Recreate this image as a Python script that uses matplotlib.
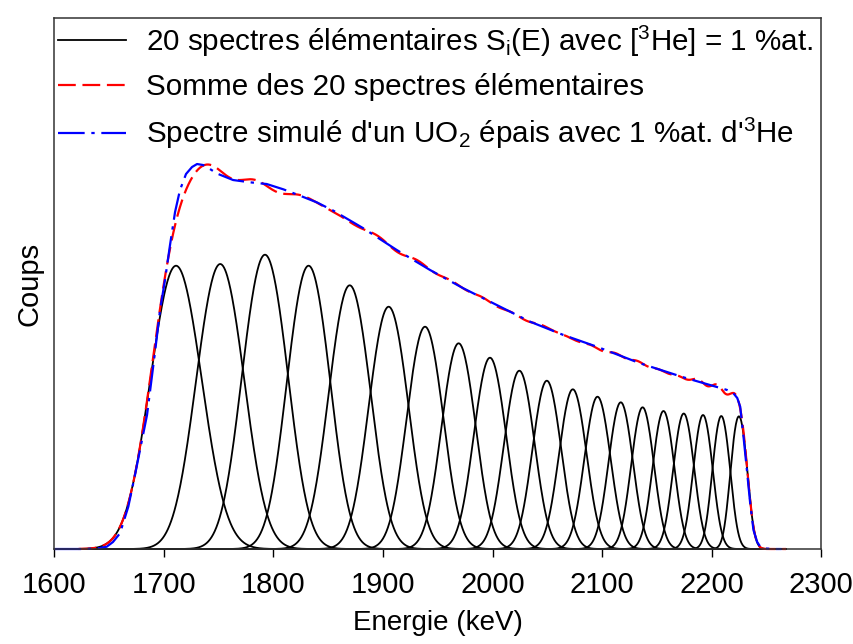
import math
import numpy as np
import matplotlib
matplotlib.use("Agg")
import matplotlib.pyplot as plt

plt.rcParams["font.family"] = ["Liberation Sans", "DejaVu Sans"]
plt.rcParams["mathtext.fontset"] = "custom"
plt.rcParams["mathtext.rm"] = "Liberation Sans"
plt.rcParams["mathtext.it"] = "Liberation Sans:italic"

# Elementary spectra: centre (keV), peak height (counts), Gaussian resolution sigma (keV)
peak_centers = [1711.0, 1750.9, 1792.6, 1832.8, 1869.9, 1905.8, 1939.1, 1969.5, 1998.1, 2025.0,
                2049.9, 2073.6, 2096.2, 2117.5, 2137.3, 2156.1, 2175.0, 2192.4, 2209.1, 2225.0]
peak_heights = [283.3, 285.0, 294.3, 283.3, 263.7, 242.3, 222.3, 205.7, 191.3, 178.3,
                168.3, 159.7, 152.3, 146.7, 141.7, 138.0, 135.5, 134.0, 133.0, 132.7]
resolution_sigma = [19.5, 17.0, 15.4, 14.5, 14.4, 13.6, 12.6, 12.0, 11.4, 10.8,
                    10.2, 9.9, 9.4, 8.7, 8.1, 7.6, 7.3, 6.7, 5.8, 5.1]

# Simulated thick UO2 spectrum (energy in keV, counts)
sim_energy = [1600, 1629.4, 1641.6, 1647.7, 1653.4, 1659.8, 1667.4, 1673.5, 1679.0, 1684.5,
              1691.8, 1696.4, 1700.9, 1705.5, 1710.1, 1714.6, 1720.1, 1725.6, 1730.2, 1735.7,
              1742.0, 1748.4, 1763.1, 1778.6, 1793.8, 1809.0, 1824.3, 1839.5, 1854.7, 1882.1,
              1912.6, 1943.0, 1973.4, 2003.9, 2034.4, 2064.8, 2095.3, 2134.8, 2174.4, 2201.8,
              2214.3, 2219.8, 2223.5, 2226.2, 2229.2, 2232.3, 2235.3, 2238.3, 2241.7, 2244.5,
              2250.6, 2258.2, 2264.0]
sim_counts = [0, 0, 1, 2.3, 7, 15.7, 42.3, 74, 104, 134,
              197, 239, 269, 304, 337, 359, 375, 382, 385, 384,
              380, 375.5, 369, 366.7, 365, 359.7, 353.3, 346.7, 338.3, 320.7,
              299, 279, 260.7, 244, 227.3, 214, 202.3, 185.7, 171.7, 163,
              159, 156, 151, 142.3, 112.3, 79, 45.7, 19, 7, 2.3,
              0.4, 0, 0]

x_ticks = [1600, 1700, 1800, 1900, 2000, 2100, 2200, 2300]

erf = np.vectorize(math.erf)

# Each layer covers the energy band between the midpoints of neighbouring centres
centers = np.array(peak_centers)
mids = (centers[1:] + centers[:-1]) / 2
band_lo = np.r_[centers[0] - (centers[1] - centers[0]) / 2, mids]
band_hi = np.r_[mids, centers[-1] + (centers[-1] - centers[-2]) / 2]


def elementary_spectrum(e, lo, hi, height, sigma):
    """Flat energy band convolved with a Gaussian detector response."""
    level = height / math.erf((hi - lo) / (2 * math.sqrt(2) * sigma))
    return level / 2 * (erf((e - lo) / (math.sqrt(2) * sigma)) - erf((e - hi) / (math.sqrt(2) * sigma)))


energy = np.linspace(1622, 2268, 1300)
components = [elementary_spectrum(energy, lo, hi, h, s)
              for lo, hi, h, s in zip(band_lo, band_hi, peak_heights, resolution_sigma)]
total = np.sum(components, axis=0)

fig = plt.figure(figsize=(8.54, 6.44), dpi=100)
ax = fig.add_axes([0.0638, 0.1475, 0.8976, 0.8245])

for i, comp in enumerate(components):
    ax.plot(energy, comp, color="black", lw=1.3, clip_on=False,
            label=r"20 spectres élémentaires S$_\mathregular{i}$(E) avec [$^\mathregular{3}$He] = 1 %at."
            if i == 0 else None)
ax.plot(energy, total, color="#ff0000", lw=1.6, linestyle=(0, (8, 3)), clip_on=False,
        label="Somme des 20 spectres élémentaires")
ax.plot(sim_energy, sim_counts, color="#0000ff", lw=1.6, linestyle=(0, (12, 3, 1.5, 3)), clip_on=False,
        label=r"Spectre simulé d'un UO$_\mathregular{2}$ épais avec 1 %at. d'$^\mathregular{3}$He")

ax.set_xlim(1600, 2300)
ax.set_ylim(0, 531)
ax.set_xticks(x_ticks)
ax.set_xticklabels([str(t) for t in x_ticks])
ax.set_yticks([])
ax.tick_params(axis="x", direction="out", length=6, width=1, labelsize=21, pad=10, top=False)
for sp in ax.spines.values():
    sp.set_color("#333333")
    sp.set_linewidth(1.1)

ax.set_xlabel("Energie (keV)", fontsize=20, labelpad=8)
ax.set_ylabel("Coups", fontsize=21, labelpad=8)

leg = ax.legend(loc="upper left", bbox_to_anchor=(0.005, 0.99), frameon=False, fontsize=21.3,
                handlelength=2.3, handletextpad=0.67, labelspacing=0.5, borderpad=0, borderaxespad=0)

fig.savefig("out.png", dpi=100)
